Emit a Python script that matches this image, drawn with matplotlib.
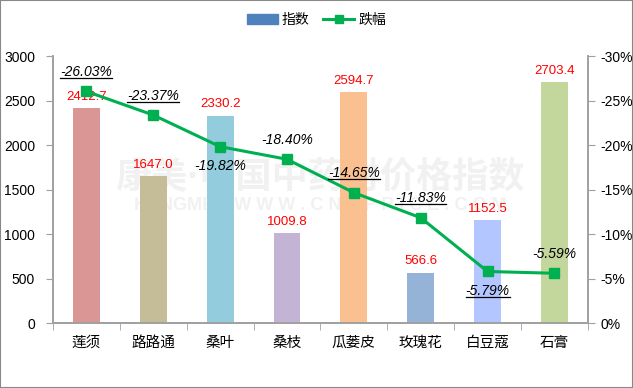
import numpy as np
import matplotlib.pyplot as plt
from matplotlib.lines import Line2D
from matplotlib.patches import Patch, Rectangle

plt.rcParams['font.family'] = ['Liberation Sans', 'Noto Sans CJK SC', 'DejaVu Sans']

categories = ["莲须", "路路通", "桑叶", "桑枝", "瓜蒌皮", "玫瑰花", "白豆蔻", "石膏"]
index_vals = [2412.7, 1647.0, 2330.2, 1009.8, 2594.7, 566.6, 1152.5, 2703.4]
change_pct = [-26.03, -23.37, -19.82, -18.40, -14.65, -11.83, -5.79, -5.59]
bar_colors = ["#D99694", "#C4BD97", "#93CDDD", "#C3B4D6",
              "#FAC090", "#95B3D7", "#B3C6FF", "#C3D69B"]
# label placement for the percent labels: above / below, underlined or not
pct_above = [True, True, False, True, True, True, False, True]
pct_underline = [True, True, False, False, True, True, True, False]

fig = plt.figure(figsize=(6.33, 3.88), dpi=100)
fig.patches.append(Rectangle((0, 0), 1, 1, transform=fig.transFigure,
                             fill=False, edgecolor="#888888", linewidth=1.5))
ax = fig.add_axes([0.0837, 0.1675, 0.845, 0.688])
ax2 = ax.twinx()

x = np.arange(len(categories))
ax.bar(x, index_vals, width=0.4, color=bar_colors, zorder=2)
ax.set_xlim(-0.5, len(categories) - 0.5)
ax.set_ylim(0, 3000)
ax.set_yticks(np.arange(0, 3001, 500))

for xi, v in zip(x, index_vals):
    ax.text(xi, v + 60, f"{v:.1f}", color="red", ha="center", va="bottom", fontsize=9.5)

ax.set_xticks(x, labels=categories, fontsize=10.5)
ax.set_xticks(np.arange(-0.5, len(categories)), minor=True)
ax.tick_params(axis="x", which="major", length=0, pad=9)
ax.tick_params(axis="x", which="minor", length=5, color="#A0A0A0")
ax.tick_params(axis="y", length=5, color="#A0A0A0", labelsize=10, pad=8)

# faint watermark, as in the source picture
ax.text(0.5, 0.545, "康美·中国中药材价格指数", transform=ax.transAxes, ha="center",
        va="center", fontsize=26, fontweight="bold", color="#F1F1F1", zorder=1)
ax.text(0.5, 0.44, "KANGMEI   W W W . C N K P R I C E . C O M", transform=ax.transAxes,
        ha="center", va="center", fontsize=13, fontweight="bold", color="#F1F1F1", zorder=1)

abs_pct = [abs(p) for p in change_pct]
ax2.plot(x, abs_pct, color="#00B050", linewidth=2.2, marker="s", markersize=7, zorder=3)
ax2.set_ylim(0, 30)
ax2.set_yticks(np.arange(0, 31, 5))
ax2.set_yticklabels(["0%"] + [f"-{t}%" for t in range(5, 31, 5)])
ax2.tick_params(axis="y", length=5, color="#A0A0A0", labelsize=10, pad=4)

ax.spines["top"].set_visible(False)
ax2.spines["top"].set_visible(False)
for a in (ax, ax2):
    for s in ("left", "right", "bottom"):
        a.spines[s].set_color("#A0A0A0")
        a.spines[s].set_linewidth(1.2)

pct_texts = []
for xi, p, above, ul in zip(x, change_pct, pct_above, pct_underline):
    off = 9 if above else -9
    t = ax2.annotate(f"{p:.2f}%", (xi, abs(p)), xytext=(0, off), textcoords="offset points",
                     ha="center", va="bottom" if above else "top",
                     fontsize=10, fontstyle="italic", zorder=4)
    pct_texts.append((t, ul))

handles = [Patch(color="#4F81BD"),
           Line2D([], [], color="#00B050", linewidth=2.2, marker="s", markersize=6)]
fig.legend(handles, ["指数", "跌幅"], loc="center", bbox_to_anchor=(0.5, 0.948), ncol=2,
           frameon=False, fontsize=10, handlelength=2.2, columnspacing=1.0, handletextpad=0.3)

# underline some of the percent labels
fig.canvas.draw()
inv = fig.transFigure.inverted()
for t, ul in pct_texts:
    if not ul:
        continue
    bb = t.get_window_extent()
    (x0, y0), (x1, _) = inv.transform([(bb.x0, bb.y0 + 1), (bb.x1, bb.y0 + 1)])
    fig.add_artist(Line2D([x0, x1], [y0, y0], color="black", linewidth=0.9))

fig.savefig("out.png", dpi=100)
